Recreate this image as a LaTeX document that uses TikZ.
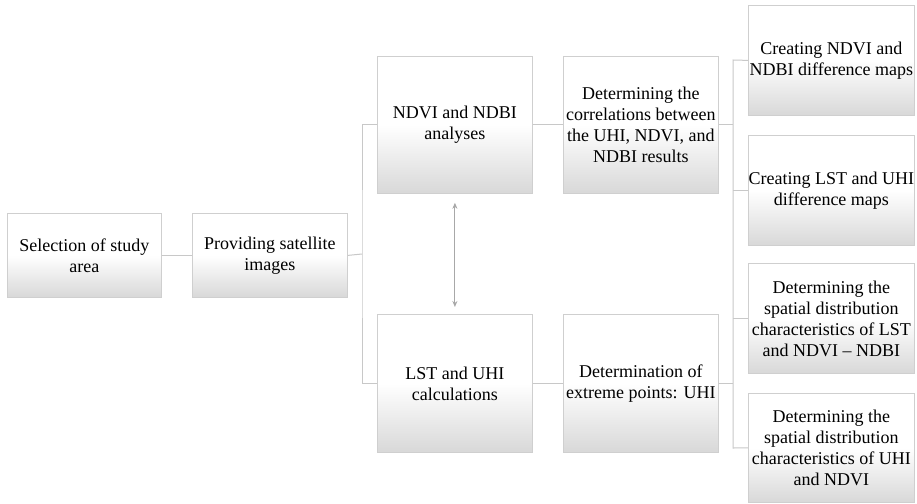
\documentclass[tikz,border=0pt]{standalone}
\usepackage{fontspec}
\setmainfont{Liberation Serif}
\usetikzlibrary{arrows.meta}
\definecolor{edgec}{HTML}{CFCFCF}
\definecolor{wirec}{HTML}{C8C8C8}
\definecolor{shadebot}{HTML}{D8D8D8}
\definecolor{arrc}{HTML}{A8A8A8}
\begin{document}
\begin{tikzpicture}[x=1pt,y=-1pt,
  box/.style={draw=edgec, line width=0.8pt, top color=white, bottom color=shadebot, middle color=white,
    align=center, font=\fontsize{18}{21}\selectfont, text=black, inner sep=0pt, anchor=north west},
  wire/.style={draw=wirec, line width=1pt},
  arr/.style={draw=arrc, line width=1pt, {Stealth[length=6pt,width=5pt]}-{Stealth[length=6pt,width=5pt]}}]
\useasboundingbox (0,0) rectangle (917,503);
\fill[white] (0,0) rectangle (917,503);
% nodes
\node[box, minimum width=154pt, minimum height=84pt] (sel) at (7,213) {Selection of study\\area};
\node[box, minimum width=155pt, minimum height=84pt] (prov) at (192,213) {Providing satellite\\images};
\node[box, minimum width=155pt, minimum height=137pt] (ndvi) at (377,56) {NDVI and NDBI\\analyses};
\node[box, minimum width=155pt, minimum height=137pt] (corr) at (563,56) {Determining the\\correlations between\\the UHI, NDVI, and\\NDBI results};
\node[box, minimum width=155pt, minimum height=138pt] (lst) at (377,314) {LST and UHI\\calculations};
\node[box, minimum width=155pt, minimum height=138pt] (det) at (563,314) {Determination of\\extreme points: UHI};
\node[box, minimum width=166pt, minimum height=110pt] (r1) at (748,5) {Creating NDVI and\\NDBI difference maps};
\node[box, minimum width=166pt, minimum height=110pt] (r2) at (748,135) {Creating LST and UHI\\difference maps};
\node[box, minimum width=166pt, minimum height=110pt] (r3) at (748,263) {Determining the\\spatial distribution\\characteristics of LST\\and NDVI -- NDBI};
\node[box, minimum width=166pt, minimum height=109pt] (r4) at (748,393) {Determining the\\spatial distribution\\characteristics of UHI\\and NDVI};
% junctions
\coordinate (j1) at (362,254);
\coordinate (vtop) at (733,60);
\coordinate (vbot) at (733,448);
% connectors
\draw[wire] (sel.east) -- (prov.west);
\draw[wire] (prov.east) -- (j1);
\draw[wire] (ndvi.west) -| (j1) |- (lst.west);
\draw[wire] (ndvi.east) -- (corr.west);
\draw[wire] (lst.east) -- (det.west);
\draw[wire] (r1.west) -- (vtop) -- (vbot) -- (r4.west);
\draw[wire] (r2.west) -- (r2.west -| vtop);
\draw[wire] (r3.west) -- (r3.west -| vtop);
\draw[wire] (corr.east) -- (corr.east -| vtop);
\draw[wire] (det.east) -- (det.east -| vtop);
\draw[arr] ([yshift=-9pt]ndvi.south) -- ([yshift=7pt]lst.north);
\end{tikzpicture}
\end{document}
